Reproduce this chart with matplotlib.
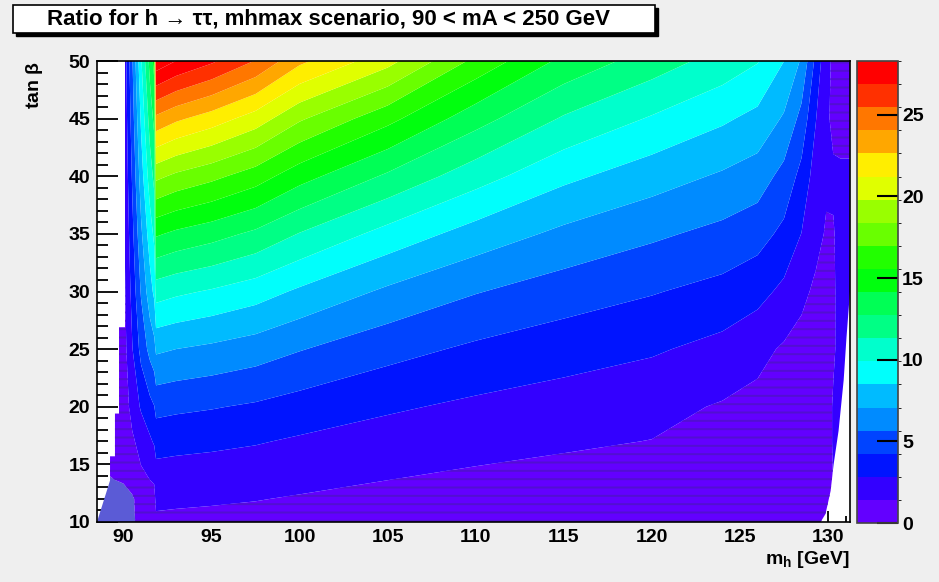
import matplotlib
matplotlib.use("Agg")
import matplotlib.pyplot as plt
import numpy as np
from matplotlib.cm import ScalarMappable
from matplotlib.colors import BoundaryNorm, ListedColormap
from matplotlib.patches import Polygon, Rectangle
from matplotlib.ticker import MultipleLocator

# Grid of the ratio: columns are m_h [GeV], rows are tan(beta)
mh = [88.5, 89.5, 90.0, 90.5, 91.0, 91.5, 91.75, 91.85, 93.0, 95.0, 97.5, 100.0,
      105.0, 110.0, 115.0, 120.0, 124.0, 126.0, 127.5, 128.5, 129.3, 129.9,
      130.3, 130.7, 131.25]
tanb = [10, 12, 14, 17, 20, 25, 30, 35, 40, 45, 50]
ratio = [
    [-1.0, -1.0, -1.0, -0.3, 0.6, 0.9, 1.0, 1.17, 1.13, 1.08, 1.02, 0.92, 0.76, 0.64, 0.55, 0.48, 0.43, 0.42, 0.40, 0.40, 0.40, 0.50, 0.60, 0.70, 0.70],
    [-1.0, -1.0, -0.8, -0.2, 0.7, 1.0, 1.1, 1.69, 1.63, 1.56, 1.46, 1.32, 1.09, 0.92, 0.79, 0.69, 0.62, 0.60, 0.58, 0.55, 0.55, 0.65, 0.90, 1.00, 1.00],
    [-0.5, 0.2, 0.4, 0.8, 1.2, 1.5, 1.6, 2.30, 2.22, 2.13, 1.99, 1.80, 1.49, 1.25, 1.08, 0.95, 0.85, 0.80, 0.75, 0.70, 0.70, 0.90, 1.45, 1.50, 1.50],
    [0.2, 0.3, 0.5, 1.2, 1.9, 2.6, 3.0, 3.38, 3.27, 3.14, 2.94, 2.65, 2.19, 1.84, 1.59, 1.39, 1.10, 0.95, 0.85, 0.80, 0.80, 1.00, 1.50, 1.60, 1.60],
    [0.2, 0.35, 0.6, 1.9, 3.0, 3.8, 4.2, 4.68, 4.52, 4.34, 4.06, 3.67, 3.03, 2.55, 2.20, 1.80, 1.30, 1.05, 0.90, 0.85, 0.85, 1.00, 1.50, 1.70, 1.70],
    [0.2, 0.4, 0.75, 2.75, 4.7, 6.1, 6.6, 7.32, 7.07, 6.78, 6.35, 5.74, 4.74, 3.99, 3.44, 3.00, 2.40, 1.80, 1.25, 1.00, 0.90, 1.00, 1.30, 1.70, 1.70],
    [0.2, 0.4, 0.9, 3.3, 5.8, 7.9, 8.8, 10.54, 10.18, 9.76, 9.14, 8.26, 6.82, 5.74, 4.96, 4.34, 3.80, 3.30, 2.50, 1.70, 1.20, 1.05, 1.30, 1.70, 1.70],
    [0.2, 0.5, 1.05, 3.85, 6.8, 9.2, 10.2, 14.34, 13.85, 13.29, 12.44, 11.25, 9.40, 7.90, 6.75, 5.91, 5.27, 4.80, 3.90, 2.80, 1.80, 1.30, 1.35, 1.70, 1.70],
    [0.2, 0.5, 1.2, 4.4, 7.8, 10.6, 11.7, 18.74, 18.09, 17.36, 16.26, 14.70, 12.50, 10.50, 8.82, 7.72, 6.89, 6.39, 5.20, 3.80, 2.20, 1.60, 1.55, 1.60, 1.60],
    [0.2, 0.5, 1.35, 4.95, 8.7, 11.9, 13.1, 23.72, 22.90, 21.97, 20.58, 18.60, 16.00, 13.30, 11.16, 9.77, 8.72, 8.09, 6.90, 5.20, 2.90, 1.60, 1.20, 1.00, 1.00],
    [0.2, 0.5, 1.5, 5.5, 9.7, 13.2, 14.6, 29.27, 28.27, 27.12, 25.40, 22.96, 20.30, 16.60, 13.78, 12.05, 10.76, 9.99, 8.50, 6.90, 3.90, 1.80, 1.20, 0.80, 0.80],
]

# Edges of the scanned region (outside of it nothing is drawn)
left_edge_mh = [88.5, 89.24, 89.24, 89.52, 89.52, 89.75, 89.75, 90.09, 90.09]
left_edge_tb = [10, 13.6, 15.7, 15.7, 19.4, 19.4, 26.9, 26.9, 50]
right_edge_mh = [131.25, 131.25, 131.05, 130.89, 130.6, 130.32, 130.15, 129.86, 129.58]
right_edge_tb = [50, 30, 26, 22.3, 17.9, 15.0, 12.7, 10.7, 10]

# 20 contour levels between 0 and the maximum, ROOT "pretty" palette
z_max = 28.3
n_levels = 20
palette = ["#6300ff", "#3300ff", "#0014ff", "#0044ff", "#008bff", "#00bbff",
           "#00fffc", "#00ffcc", "#00ff85", "#00ff55", "#00ff0e", "#22ff00",
           "#69ff00", "#99ff00", "#e0ff00", "#ffee00", "#ffa700", "#ff7700",
           "#ff3000", "#ff0000"]
below_color = "#5b5bd6"

plt.rcParams["font.family"] = ["Liberation Sans", "DejaVu Sans"]
plt.rcParams["font.weight"] = "bold"
plt.rcParams["hatch.color"] = "#5210d0"
plt.rcParams["hatch.linewidth"] = 1.4
plt.rcParams["mathtext.fontset"] = "custom"
plt.rcParams["mathtext.rm"] = "Liberation Sans:bold"
plt.rcParams["mathtext.it"] = "Liberation Sans:bold"


def main():
    W, H = 939, 582
    fig = plt.figure(figsize=(W / 100, H / 100), dpi=100, facecolor="#efefef")
    ax = fig.add_axes([97 / W, 1 - 522 / H, (850 - 97) / W, (522 - 61) / H])
    cax = fig.add_axes([857 / W, 1 - 523 / H, (898 - 857) / W, (523 - 61) / H])

    levels = np.linspace(0, z_max, n_levels + 1)
    cmap = ListedColormap(palette)
    cmap.set_under(below_color)
    cmap.set_over(palette[-1])

    hatches = [None, "--"] + [None] * n_levels
    cs = ax.contourf(mh, tanb, np.array(ratio), levels=levels, cmap=cmap,
                     extend="both", hatches=hatches, antialiased=True)

    # Clip the filled contours to the scanned region
    domain = list(zip(left_edge_mh, left_edge_tb)) + list(zip(right_edge_mh, right_edge_tb))
    clip = Polygon(domain, closed=True, transform=ax.transData, facecolor="none", edgecolor="none")
    ax.add_patch(clip)
    cs.set_clip_path(clip)

    ax.set_xlim(88.5, 131.25)
    ax.set_ylim(10, 50)
    ax.set_facecolor("white")
    ax.set_axisbelow(True)

    ax.xaxis.set_major_locator(MultipleLocator(5))
    ax.xaxis.set_minor_locator(MultipleLocator(1))
    ax.yaxis.set_major_locator(MultipleLocator(5))
    ax.yaxis.set_minor_locator(MultipleLocator(1))
    ax.tick_params(which="both", direction="in", colors="black", labelsize=14, width=1.3)
    ax.tick_params(axis="y", which="major", length=15, pad=5)
    ax.tick_params(axis="y", which="minor", length=8)
    ax.tick_params(axis="x", which="major", length=8, pad=5)
    ax.tick_params(axis="x", which="minor", length=4)
    for spine in ax.spines.values():
        spine.set_linewidth(1.2)

    ax.set_xlabel(r"m$_\mathregular{h}$ [GeV]", fontsize=14, fontweight="bold",
                  loc="right", labelpad=2)
    ax.set_ylabel(r"tan $\beta$", fontsize=14, fontweight="bold", loc="top", labelpad=17)

    # Palette axis
    norm = BoundaryNorm(levels, n_levels)
    cb = fig.colorbar(ScalarMappable(norm=norm, cmap=ListedColormap(palette)), cax=cax)
    cb.set_ticks([0, 5, 10, 15, 20, 25])
    cb.ax.tick_params(direction="in", length=15, width=1.5, labelsize=14, pad=3)
    cb.outline.set_edgecolor("#444444")
    cb.outline.set_linewidth(1.2)

    # Title box with a drop shadow
    x0, x1, y0, y1 = 13, 655, 5, 33
    fig.patches.append(Rectangle((x0 / W + 3 / W, 1 - (y1 + 3) / H), (x1 - x0) / W, (y1 - y0) / H,
                                 transform=fig.transFigure, facecolor="black", edgecolor="black"))
    fig.patches.append(Rectangle((x0 / W, 1 - y1 / H), (x1 - x0) / W, (y1 - y0) / H,
                                 transform=fig.transFigure, facecolor="white", edgecolor="black", lw=1.2))
    fig.text(47 / W, 1 - (y0 + y1) / 2 / H,
             "Ratio for h \u2192 \u03c4\u03c4, mhmax scenario, 90 < mA < 250 GeV",
             ha="left", va="center", fontsize=16, fontweight="bold")

    fig.savefig("out.png", dpi=100, facecolor=fig.get_facecolor())


if __name__ == "__main__":
    main()
